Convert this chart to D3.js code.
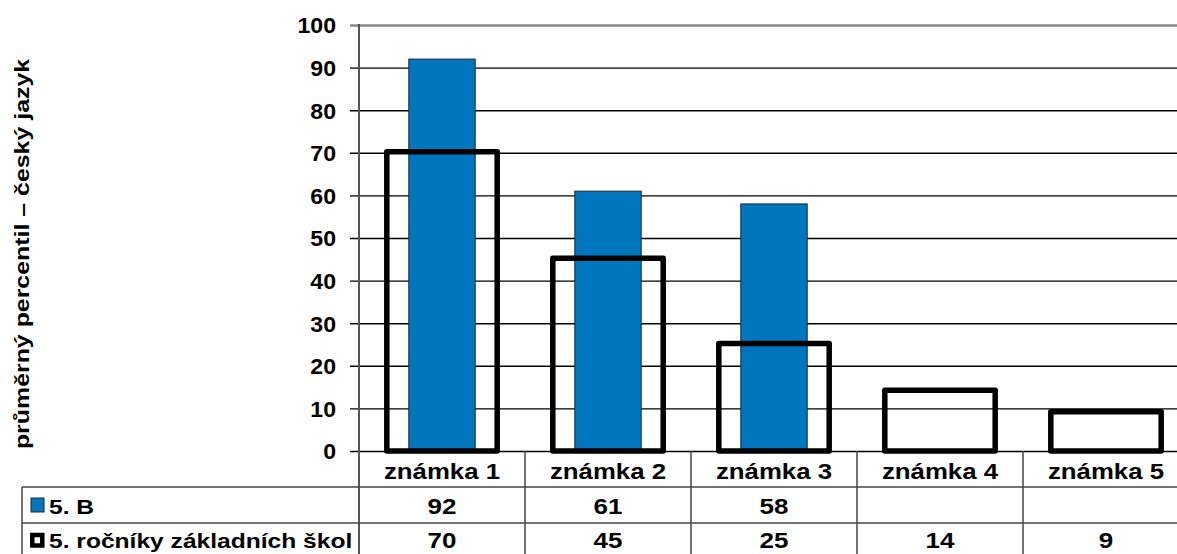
<!DOCTYPE html>
<html>
<head>
<meta charset="utf-8">
<script src="https://cdnjs.cloudflare.com/ajax/libs/d3/7.8.5/d3.min.js"></script>
<style>
  html, body { margin: 0; padding: 0; background: #fff; }
  svg { display: block; }
  text { font-family: "Liberation Sans", Arial, sans-serif; font-weight: bold; fill: #000; }
</style>
</head>
<body>
<svg id="chart" width="1177" height="554"></svg>
<script>
const categories = ["známka 1", "známka 2", "známka 3", "známka 4", "známka 5"];
const seriesNames = ["5. B", "5. ročníky základních škol"];
const classValues = [92, 61, 58, null, null];
const schoolValues = [70, 45, 25, 14, 9];
const yTicks = [0, 10, 20, 30, 40, 50, 60, 70, 80, 90, 100];
const yTitle = "průměrný percentil – český jazyk";

const W = 1177, H = 554;
const plotLeft = 359, plotRight = 1189, plotTop = 25, plotBottom = 451;
const tableLeft = 22;
const row1Top = 487, row2Top = 523;
const SX = 1.2;

const svg = d3.select("#chart");

const x = d3.scaleBand().domain(categories).range([plotLeft, plotRight]).paddingInner(0).paddingOuter(0);
const y = d3.scaleLinear().domain([0, 100]).range([plotBottom, plotTop]);

function addText(g, tx, ty, str, size, anchor, sx) {
  return g.append("text")
    .attr("transform", `translate(${tx},${ty}) scale(${sx},1)`)
    .attr("text-anchor", anchor)
    .style("font-size", size + "px")
    .text(str);
}

// gridlines + ticks
const yAxis = d3.axisLeft(y).tickValues(yTicks).tickSize(-(plotRight - plotLeft)).tickSizeOuter(0).tickPadding(0).tickFormat(d3.format("d"));
const gAxis = svg.append("g").attr("transform", `translate(${plotLeft},0)`).call(yAxis);
gAxis.select(".domain").remove();
gAxis.selectAll(".tick line")
  .attr("x1", -9)
  .attr("stroke", d => d === 100 ? "#8a8a8a" : "#000")
  .attr("stroke-width", d => d === 100 ? 2.5 : 1.4);
gAxis.selectAll(".tick text")
  .attr("x", 0)
  .attr("dy", "0.36em")
  .attr("transform", "translate(-23,0) scale(1.05,1)")
  .style("font-size", "22px")
  .style("font-family", "'Liberation Sans', Arial, sans-serif")
  .style("font-weight", "bold")
  .attr("fill", "#000");

// blue bars
const blueW = x.bandwidth() * 0.4;
svg.append("g").selectAll("rect").data(categories.map((c, i) => ({c, v: classValues[i]})).filter(d => d.v != null))
  .join("rect")
  .attr("x", d => x(d.c) + (x.bandwidth() - blueW) / 2)
  .attr("y", d => y(d.v))
  .attr("width", blueW)
  .attr("height", d => y(0) - y(d.v))
  .attr("fill", "#0076BE")
  .attr("stroke", "#1a2a3a")
  .attr("stroke-width", 1);

// outline bars
const outW = x.bandwidth() * 0.665;
svg.append("g").selectAll("rect").data(categories.map((c, i) => ({c, v: schoolValues[i]})))
  .join("rect")
  .attr("x", d => x(d.c) + (x.bandwidth() - outW) / 2)
  .attr("y", d => y(d.v) - 1)
  .attr("width", outW)
  .attr("height", d => y(0) - y(d.v) + 1)
  .attr("fill", "none")
  .attr("stroke", "#000")
  .attr("stroke-width", 5.5)
  .attr("stroke-linejoin", "round");

// y axis line (continues down through table)
svg.append("line").attr("x1", plotLeft).attr("x2", plotLeft).attr("y1", plotTop - 1).attr("y2", H)
  .attr("stroke", "#555").attr("stroke-width", 2);

// table column separators
const lineColor = "#444";
svg.append("g").selectAll("line").data(categories.slice(1))
  .join("line")
  .attr("x1", d => x(d)).attr("x2", d => x(d))
  .attr("y1", plotBottom).attr("y2", H)
  .attr("stroke", lineColor).attr("stroke-width", 1.5);

// horizontal table lines
[row1Top, row2Top].forEach(yy => {
  svg.append("line").attr("x1", tableLeft).attr("x2", W).attr("y1", yy).attr("y2", yy)
    .attr("stroke", lineColor).attr("stroke-width", 1.5);
});
svg.append("line").attr("x1", tableLeft).attr("x2", tableLeft).attr("y1", row1Top).attr("y2", H)
  .attr("stroke", lineColor).attr("stroke-width", 1.5);

// category labels
const gCat = svg.append("g");
categories.forEach(c => addText(gCat, x(c) + x.bandwidth() / 2, 479, c, 21.5, "middle", SX));

// table rows
const rows = [
  {name: seriesNames[0], values: classValues, base: 514, kind: "blue"},
  {name: seriesNames[1], values: schoolValues, base: 548, kind: "outline"}
];
rows.forEach(r => {
  if (r.kind === "blue") {
    svg.append("rect").attr("x", 31).attr("y", r.base - 16).attr("width", 13).attr("height", 14)
      .attr("fill", "#0076BE").attr("stroke", "#1a2a3a").attr("stroke-width", 1);
  } else {
    svg.append("rect").attr("x", 32.3).attr("y", r.base - 13).attr("width", 10).attr("height", 10.5)
      .attr("fill", "#fff").attr("stroke", "#000").attr("stroke-width", 4.5);
  }
  const g = svg.append("g");
  addText(g, 49, r.base, r.name, 20.5, "start", 1.2);
  categories.forEach((c, i) => {
    if (r.values[i] != null) addText(g, x(c) + x.bandwidth() / 2, r.base, String(r.values[i]), 22, "middle", 1.18);
  });
});

// y title
svg.append("text")
  .attr("transform", `translate(29, 254) rotate(-90) scale(1.245,1)`)
  .attr("text-anchor", "middle")
  .style("font-size", "20px")
  .text(yTitle);
</script>
</body>
</html>
